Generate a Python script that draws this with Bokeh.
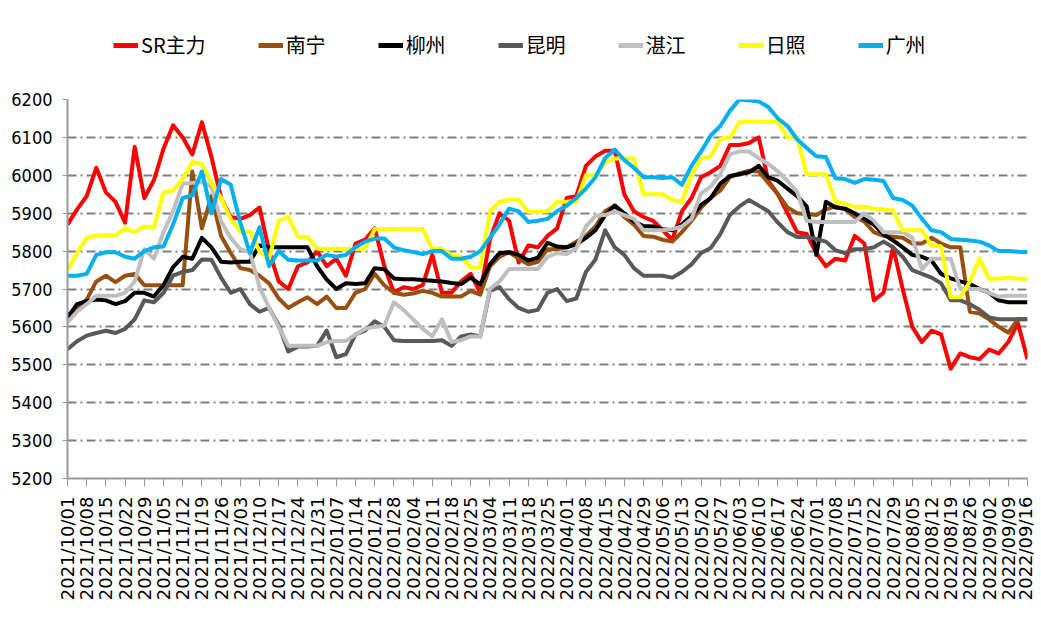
import math
import pandas as pd
from bokeh.plotting import figure
from bokeh.layouts import column
from bokeh.models import Range1d, FixedTicker, DatetimeTickFormatter, Legend, LegendItem
from bokeh.embed import file_html
from bokeh.resources import INLINE

# sample dates: twice a week from 2021/10/01 to 2022/09/16
dates = pd.date_range("2021-10-01", periods=101, freq="84h")
tick_dates = pd.date_range("2021-10-01", "2022-09-16", freq="7D")
y_ticks = list(range(5200, 6201, 100))

sr_main = [5870, 5910, 5945, 6020, 5955, 5930, 5875, 6075, 5940, 5987, 6070, 6132, 6100, 6055, 6140, 6048, 5940, 5890,
           5885, 5895, 5915, 5800, 5720, 5700, 5760, 5770, 5800, 5760, 5780, 5735, 5820, 5830, 5860, 5760,
           5690, 5705, 5700, 5710, 5790, 5690, 5690, 5720, 5740, 5690, 5830, 5900, 5880, 5770, 5815, 5810, 5840,
           5860, 5940, 5945, 6025, 6050, 6065, 6065, 5950, 5905, 5890, 5880, 5855, 5830, 5905, 5940, 5995, 6008,
           6025, 6080, 6080, 6085, 6100, 5985, 5950, 5900, 5850, 5845, 5795, 5760, 5780, 5775, 5840, 5820,
           5670, 5690, 5810, 5700, 5600, 5560, 5590, 5580, 5490, 5530, 5520, 5515, 5540, 5530, 5560, 5610, 5515]

nanning = [5630, 5650, 5672, 5720, 5735, 5718, 5735, 5740, 5710, 5710, 5710, 5710, 5710, 6010, 5860, 5945, 5840, 5795,
           5755, 5750, 5735, 5715, 5675, 5650, 5665, 5678, 5660, 5680, 5650, 5650, 5690, 5700, 5740, 5710,
           5690, 5685, 5688, 5695, 5690, 5680, 5680, 5680, 5695, 5685, 5760, 5785, 5797, 5780, 5765, 5772, 5805,
           5805, 5810, 5825, 5840, 5865, 5905, 5920, 5890, 5870, 5840, 5838, 5830, 5825, 5850, 5880, 5915, 5940,
           5960, 5995, 6005, 6012, 6010, 5980, 5950, 5915, 5900, 5898, 5895, 5910, 5918, 5910, 5890, 5878,
           5850, 5840, 5838, 5835, 5820, 5820, 5835, 5820, 5810, 5810, 5640, 5635, 5620, 5600, 5585, 5620, 5620]

liuzhou = [5625, 5660, 5668, 5672, 5670, 5660, 5668, 5690, 5690, 5680, 5710, 5758, 5785, 5780, 5835, 5810, 5772, 5770,
           5772, 5772, 5815, 5810, 5810, 5810, 5810, 5810, 5760, 5725, 5700, 5715, 5713, 5715, 5755, 5752,
           5728, 5726, 5726, 5724, 5722, 5720, 5716, 5713, 5730, 5712, 5765, 5795, 5797, 5790, 5775, 5783, 5822,
           5812, 5810, 5818, 5835, 5855, 5895, 5920, 5900, 5878, 5866, 5865, 5858, 5855, 5870, 5893, 5922, 5940,
           5978, 5998, 6003, 6008, 6025, 5995, 5985, 5965, 5945, 5918, 5790, 5930, 5915, 5912, 5900, 5885,
           5870, 5845, 5828, 5810, 5790, 5785, 5775, 5740, 5728, 5720, 5713, 5700, 5690, 5670, 5665, 5665, 5665]

kunming = [5541, 5562, 5577, 5584, 5590, 5584, 5595, 5620, 5670, 5665, 5690, 5735, 5745, 5750, 5778, 5777, 5730, 5690,
           5700, 5660, 5640, 5650, 5605, 5535, 5548, 5548, 5550, 5590, 5520, 5528, 5580, 5590, 5615, 5600,
           5565, 5563, 5563, 5563, 5563, 5565, 5550, 5575, 5580, 5575, 5695, 5705, 5673, 5650, 5640, 5645, 5690,
           5700, 5668, 5675, 5745, 5778, 5855, 5810, 5790, 5755, 5735, 5735, 5735, 5730, 5745, 5765, 5795, 5808,
           5845, 5895, 5918, 5935, 5920, 5905, 5875, 5850, 5837, 5837, 5832, 5825, 5802, 5795, 5805, 5805,
           5810, 5825, 5810, 5785, 5750, 5740, 5730, 5715, 5670, 5670, 5660, 5645, 5625, 5620, 5620, 5620, 5620]

zhanjiang = [5612, 5640, 5660, 5682, 5682, 5682, 5690, 5720, 5805, 5780, 5850, 5905, 5978, 5980, 5982, 5970, 5878, 5835,
             5805, 5797, 5705, 5650, 5600, 5550, 5550, 5550, 5550, 5560, 5563, 5563, 5580, 5595, 5600, 5603,
             5665, 5645, 5620, 5595, 5575, 5620, 5560, 5565, 5575, 5575, 5700, 5720, 5753, 5753, 5753, 5753, 5785,
             5795, 5792, 5808, 5865, 5893, 5895, 5905, 5895, 5885, 5855, 5855, 5855, 5858, 5865, 5885, 5952, 5970,
             6003, 6055, 6063, 6063, 6045, 6030, 6010, 5985, 5957, 5880, 5877, 5877, 5877, 5877, 5877, 5900,
             5880, 5850, 5850, 5850, 5835, 5752, 5780, 5780, 5780, 5700, 5700, 5700, 5690, 5680, 5682, 5682, 5682]

rizhao = [5750, 5795, 5835, 5841, 5841, 5841, 5860, 5850, 5865, 5862, 5955, 5960, 5990, 6035, 6030, 5980, 5940, 5885,
          5852, 5852, 5800, 5780, 5880, 5890, 5838, 5837, 5806, 5806, 5806, 5806, 5806, 5806, 5858, 5858,
          5858, 5858, 5858, 5858, 5806, 5806, 5790, 5785, 5757, 5757, 5905, 5930, 5935, 5935, 5903, 5903, 5905,
          5930, 5930, 5930, 6000, 6000, 6035, 6044, 6044, 6044, 5950, 5950, 5950, 5935, 5930, 6000, 6044, 6050,
          6095, 6100, 6140, 6141, 6141, 6141, 6141, 6100, 6100, 6003, 6003, 6003, 5930, 5925, 5916, 5917,
          5912, 5910, 5907, 5855, 5855, 5855, 5815, 5812, 5678, 5678, 5720, 5780, 5727, 5727, 5730, 5727, 5727]

guangzhou = [5735, 5735, 5740, 5790, 5797, 5797, 5785, 5780, 5800, 5810, 5812, 5870, 5940, 5947, 6010, 5900, 5990, 5975,
             5875, 5795, 5863, 5760, 5800, 5777, 5775, 5775, 5775, 5790, 5785, 5790, 5810, 5825, 5833, 5833,
             5810, 5802, 5798, 5792, 5800, 5800, 5780, 5780, 5785, 5800, 5835, 5870, 5912, 5905, 5877, 5880, 5885,
             5905, 5920, 5940, 5965, 5995, 6045, 6068, 6040, 6020, 5995, 5995, 5993, 5995, 5975, 6025, 6063, 6105,
             6130, 6170, 6200, 6198, 6195, 6180, 6150, 6130, 6095, 6072, 6050, 6048, 5992, 5990, 5980, 5990,
             5988, 5985, 5940, 5935, 5920, 5885, 5855, 5850, 5832, 5830, 5828, 5825, 5815, 5800, 5800, 5798, 5797]

names = ["SR主力", "南宁", "柳州", "昆明", "湛江", "日照", "广州"]
values = [sr_main, nanning, liuzhou, kunming, zhanjiang, rizhao, guangzhou]
colors = ["#FF0000", "#99500F", "#000000", "#595959", "#BFBFBF", "#FFFF00", "#00B0F0"]

# ---- legend strip (separate figure above the chart) ----
lf = figure(width=1035, height=87, output_backend="svg", toolbar_location=None,
            x_axis_location=None, y_axis_location=None,
            x_range=Range1d(0, 1), y_range=Range1d(0, 1), min_border=0)
lf.grid.visible = False
lf.outline_line_color = None
lf.border_fill_color = "white"
lf.background_fill_color = "white"

# ---- main chart ----
p = figure(width=1035, height=529, x_axis_type="datetime", output_backend="svg",
           toolbar_location=None,
           x_range=Range1d(dates[0].to_pydatetime(), dates[-1].to_pydatetime()),
           y_range=Range1d(5200, 6200),
           min_border_left=67, min_border_right=8, min_border_top=12, min_border_bottom=138)
p.outline_line_color = None
p.background_fill_color = "white"
p.border_fill_color = "white"

items = []
for name, vals, col in zip(names, values, colors):
    p.line(dates, vals, line_color=col, line_width=4, line_join="round")
    # single off-canvas point: only used to draw the legend swatch
    proxy = lf.line(x=[0.5], y=[-5], line_color=col, line_width=5)
    items.append(LegendItem(label=name, renderers=[proxy]))

legend = Legend(items=items, orientation="horizontal", location=(46, 28),
                label_text_font="Noto Sans CJK SC", label_text_font_size="20px",
                label_text_color="#000000",
                glyph_width=25, glyph_height=20, label_standoff=3, spacing=52,
                padding=0, margin=0, border_line_color=None, background_fill_alpha=0)
lf.add_layout(legend, "center")

# axes
p.xaxis.ticker = FixedTicker(ticks=[t.value / 1e6 for t in tick_dates])
fmt = "%Y/%m/%d"
p.xaxis.formatter = DatetimeTickFormatter(milliseconds=fmt, seconds=fmt, minsec=fmt, minutes=fmt,
                                          hourmin=fmt, hours=fmt, days=fmt, months=fmt, years=fmt)
p.xaxis.major_label_orientation = math.pi / 2
p.xaxis.major_label_text_font = "DejaVu Sans"
p.xaxis.major_label_text_font_size = "18px"
p.xaxis.major_label_text_color = "#000000"
p.xaxis.major_tick_out = 8
p.xaxis.major_tick_in = 0
p.xaxis.minor_tick_line_color = None
p.xaxis.major_label_standoff = 10
p.xaxis.axis_line_color = "#999999"
p.xaxis.axis_line_width = 2
p.xaxis.major_tick_line_color = "#999999"
p.xaxis.major_tick_line_width = 1

p.yaxis.ticker = FixedTicker(ticks=y_ticks)
p.yaxis.major_label_text_font = "Liberation Sans Narrow, DejaVu Sans Condensed, sans-serif"
p.yaxis.major_label_text_font_size = "18px"
p.yaxis.major_label_text_color = "#000000"
p.yaxis.major_tick_out = 5
p.yaxis.major_tick_in = 0
p.yaxis.minor_tick_line_color = None
p.yaxis.major_label_standoff = 10
p.yaxis.axis_line_color = "#999999"
p.yaxis.axis_line_width = 2
p.yaxis.major_tick_line_color = "#999999"

p.xgrid.visible = False
p.ygrid.ticker = FixedTicker(ticks=y_ticks)
p.ygrid.grid_line_color = "#808080"
p.ygrid.grid_line_width = 2
p.ygrid.grid_line_dash = "9 4 2 4"

layout = column(lf, p, spacing=0)
open("out.html", "w").write(file_html(layout, INLINE))
